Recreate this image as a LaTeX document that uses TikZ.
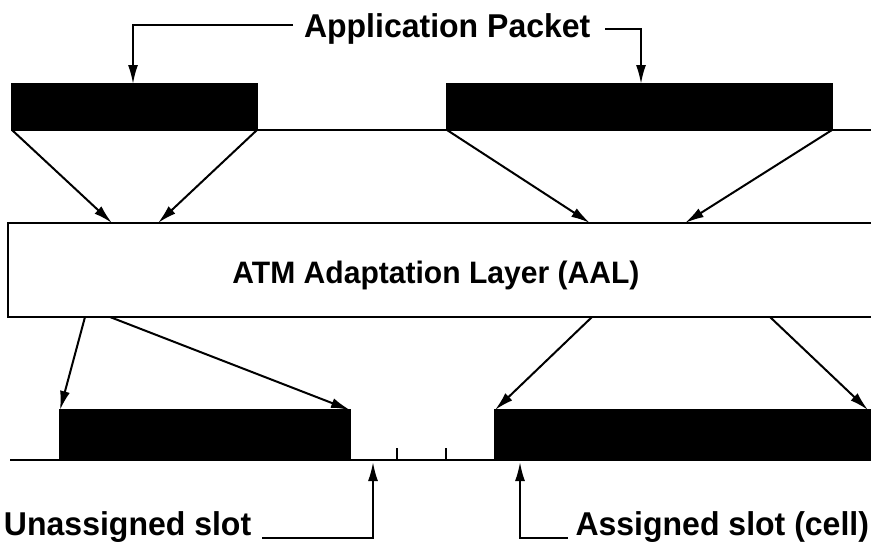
\documentclass[tikz,border=0pt]{standalone}
\usepackage{fontspec}
\setmainfont{Liberation Sans}
\newfontfamily\cf[FakeStretch=0.97]{Liberation Sans Bold}
\usetikzlibrary{arrows.meta}
\begin{document}
\begin{tikzpicture}[x=1pt,y=-1pt,line width=2pt,
  arr/.style={-{Latex[length=19pt,width=10pt]}},
  blk/.style={draw,fill=black,inner sep=0pt,outer sep=0pt,anchor=north west},
  lbl/.style={font=\cf\fontsize{33}{33}\selectfont,inner sep=0pt}]
\useasboundingbox (0,0) rectangle (871,560);
\clip (0,0) rectangle (871,560);
% top packets
\node[blk,minimum width=245pt,minimum height=46pt] (p1) at (12,84) {};
\node[blk,minimum width=385pt,minimum height=46pt] (p2) at (447,84) {};
\draw (p1.south east) -- (p2.south west);
\draw (p2.south east) -- (880,130);
% AAL
\node[draw,anchor=north west,outer sep=0pt,minimum width=880pt,minimum height=94pt,inner sep=0pt] (aal) at (8,223) {};
\node[lbl,anchor=base,font=\cf\fontsize{31}{31}\selectfont] (aaltxt) at (436,283) {ATM Adaptation Layer (AAL)};
% top label
\node[lbl,anchor=base west] (ap) at (303,37) {Application Packet};
\coordinate (apw) at ([shift={(-10,-12)}]ap.base west);
\coordinate (ape) at ([shift={(14,-8)}]ap.base east);
\draw[arr] (apw) -- (133,25) -- (133,84);
\draw[arr] (ape) -- (641,29) -- (641,84);
% arrows top -> AAL
\coordinate (a1) at (112,223);
\coordinate (a2) at (158,223);
\coordinate (a3) at (590,223);
\coordinate (a4) at (685,223);
\draw[arr] (p1.south west) -- (a1);
\draw[arr] (p1.south east) -- (a2);
\draw[arr] (p2.south west) -- (a3);
\draw[arr] (p2.south east) -- (a4);
% bottom cells
\node[blk,minimum width=290pt,minimum height=50pt] (c1) at (60,410) {};
\node[blk,minimum width=385pt,minimum height=50pt] (c2) at (495,410) {};
\draw (10,460) -- (c1.south west);
\draw (c1.south east) -- (c2.south west);
% ticks
\draw (397,448) -- (397,460);
\draw (446,448) -- (446,460);
% arrows AAL -> cells
\coordinate (b1) at (85,317);
\coordinate (b2) at (110,317);
\coordinate (b3) at (592,317);
\coordinate (b4) at (770,317);
\draw[arr] (b1) -- (c1.north west);
\draw[arr] (b2) -- (c1.north east);
\draw[arr] (b3) -- (c2.north west);
\draw[arr] (b4) -- (868,410);
% bottom labels
\node[lbl,anchor=base west] (us) at (3,535) {Unassigned slot};
\node[lbl,anchor=base east] (as) at (870,535) {Assigned slot (cell)};
\coordinate (use) at ([shift={(10,3)}]us.base east);
\coordinate (asw) at ([shift={(-7,3)}]as.base west);
\draw[arr] (use) -- (373,538) -- (373,462);
\draw[arr] (asw) -- (520,538) -- (520,462);
\end{tikzpicture}
\end{document}
